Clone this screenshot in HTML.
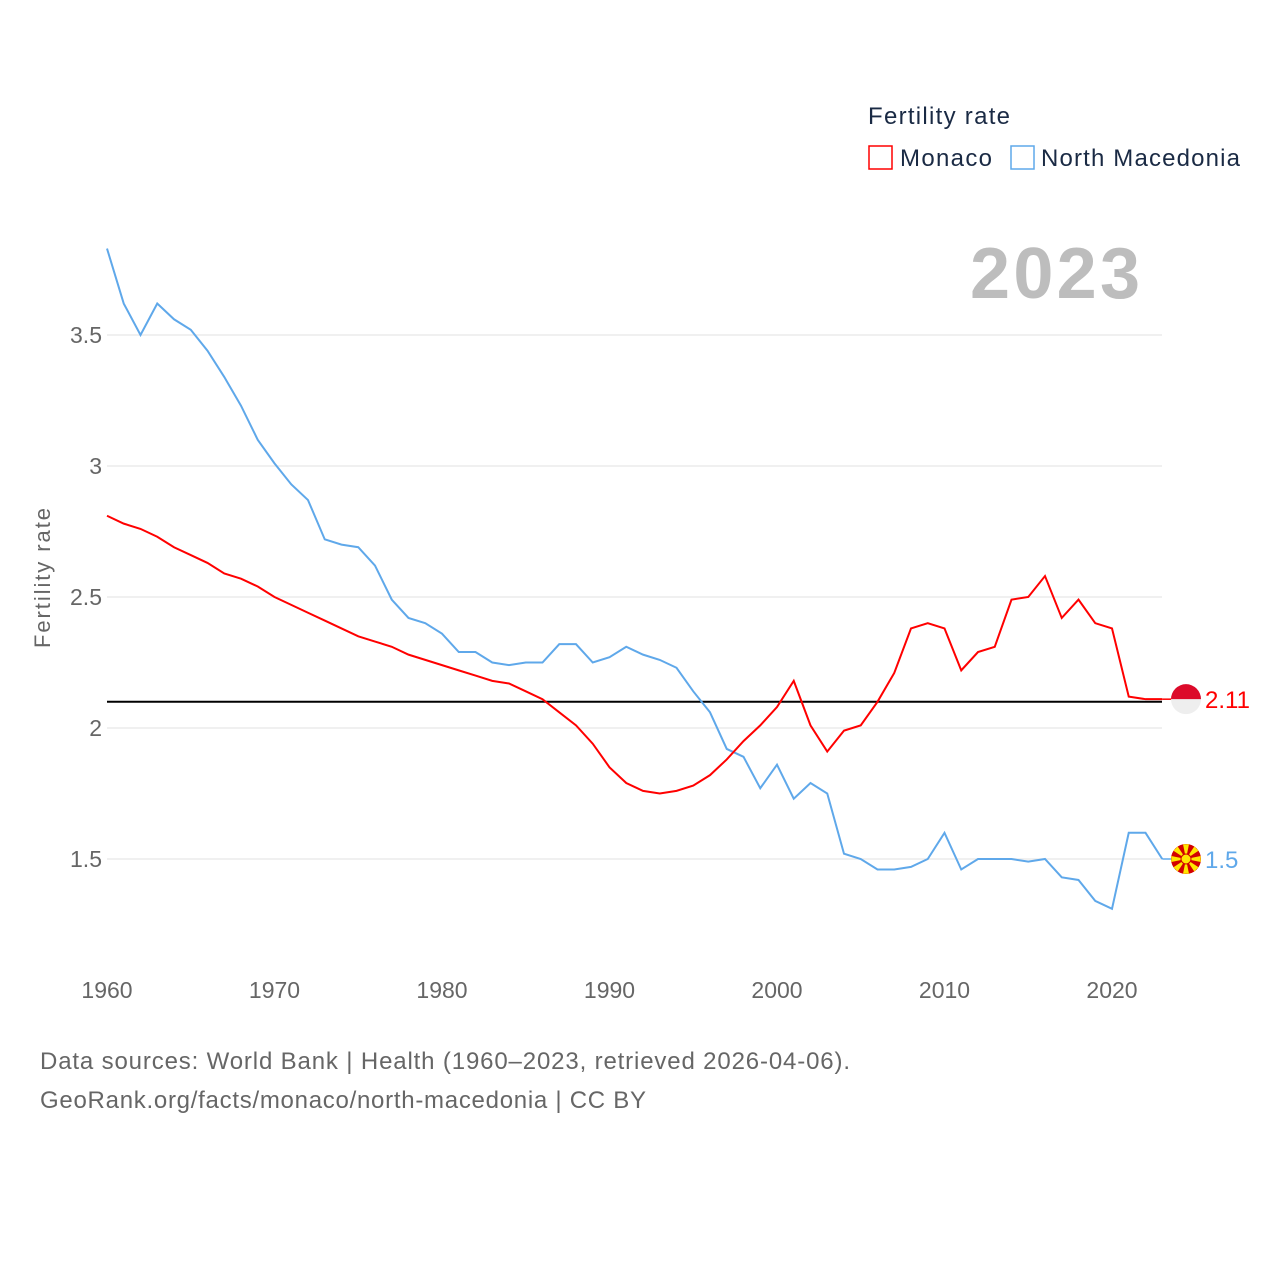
<!DOCTYPE html>
<html><head><meta charset="utf-8"><style>
body{margin:0;background:#fff;font-family:"Liberation Sans",sans-serif}
svg text{font-family:"Liberation Sans",sans-serif}
</style></head><body>
<svg id="chart" width="1280" height="1280" xmlns="http://www.w3.org/2000/svg">
<text x="868" y="124" font-size="24" fill="#1a2a44" textLength="142">Fertility rate</text>
<g><rect x="869" y="146" width="23" height="23" fill="none" stroke="#f00" stroke-width="1.5"/><text x="900" y="166" font-size="24" fill="#1a2a44" textLength="92">Monaco</text></g>
<g><rect x="1011" y="146" width="23" height="23" fill="none" stroke="#5fa8ea" stroke-width="1.5"/><text x="1041" y="166" font-size="24" fill="#1a2a44" textLength="199">North Macedonia</text></g>
<text x="1140" y="298" font-size="72" font-weight="bold" fill="#bdbdbd" text-anchor="end" textLength="170">2023</text>
<text transform="translate(50,578) rotate(-90)" font-size="22" fill="#666" text-anchor="middle" textLength="140">Fertility rate</text>
<g id="grid"></g><g id="yt"></g><g id="xt"></g><g id="lines"></g>
<text x="40" y="1069" font-size="24" fill="#666" textLength="810">Data sources: World Bank | Health (1960–2023, retrieved 2026-04-06).</text>
<text x="40" y="1108" font-size="24" fill="#666" textLength="606">GeoRank.org/facts/monaco/north-macedonia | CC BY</text>
</svg>
<script>
const years=[];for(let y=1960;y<=2023;y++)years.push(y);
const monaco=[2.81,2.78,2.76,2.73,2.69,2.66,2.63,2.59,2.57,2.54,2.50,2.47,2.44,2.41,2.38,2.35,2.33,2.31,2.28,2.26,2.24,2.22,2.20,2.18,2.17,2.14,2.11,2.06,2.01,1.94,1.85,1.79,1.76,1.75,1.76,1.78,1.82,1.88,1.95,2.01,2.08,2.18,2.01,1.91,1.99,2.01,2.10,2.21,2.38,2.40,2.38,2.22,2.29,2.31,2.49,2.50,2.58,2.42,2.49,2.40,2.38,2.12,2.11,2.11];
const macedonia=[3.83,3.62,3.50,3.62,3.56,3.52,3.44,3.34,3.23,3.10,3.01,2.93,2.87,2.72,2.70,2.69,2.62,2.49,2.42,2.40,2.36,2.29,2.29,2.25,2.24,2.25,2.25,2.32,2.32,2.25,2.27,2.31,2.28,2.26,2.23,2.14,2.06,1.92,1.89,1.77,1.86,1.73,1.79,1.75,1.52,1.50,1.46,1.46,1.47,1.50,1.60,1.46,1.50,1.50,1.50,1.49,1.50,1.43,1.42,1.34,1.31,1.60,1.60,1.50];
const yTicks=[1.5,2,2.5,3,3.5];
const xTicks=[1960,1970,1980,1990,2000,2010,2020];
const refValue=2.1;
const X=v=>107+(v-1960)*16.75, Y=v=>728-(v-2)*262;
const NS="http://www.w3.org/2000/svg";
function mk(t,a,p){const e=document.createElementNS(NS,t);for(const k in a)e.setAttribute(k,a[k]);p.appendChild(e);return e;}
const grid=document.getElementById('grid'),yt=document.getElementById('yt'),xt=document.getElementById('xt'),L=document.getElementById('lines');
yTicks.forEach(v=>{
 const g=mk('line',{x1:107,x2:1162,y1:Y(v),y2:Y(v),stroke:'#ebebeb','stroke-width':1.5},grid);
 
 
 const t=mk('text',{x:102,y:Y(v)+8,'font-size':23,fill:'#666','text-anchor':'end'},yt);t.textContent=v;
 
 
});
xTicks.forEach(v=>{
 const t=mk('text',{x:X(v),y:998,'font-size':23,fill:'#666','text-anchor':'middle'},xt);t.textContent=v;
 
 
});
const ref=mk('line',{x1:107,x2:1162,y1:Y(refValue),y2:Y(refValue),stroke:'#000','stroke-width':2},L);


function line(d,c,name){
 const p=mk('polyline',{points:d.map((v,i)=>X(years[i])+','+Y(v)).join(' '),fill:'none',stroke:c,'stroke-width':2},L);
 
 
}
line(macedonia,'#5fa8ea','line-north-macedonia');
line(monaco,'#f00','line-monaco');
const lm=monaco[monaco.length-1],lk=macedonia[macedonia.length-1];
const ex=X(2023);
mk('line',{x1:ex,x2:1172,y1:Y(lm),y2:Y(lm),stroke:'#f00','stroke-width':1.5},L);
mk('line',{x1:ex,x2:1172,y1:Y(lk),y2:Y(lk),stroke:'#5fa8ea','stroke-width':1.5},L);
const fm=mk('g',{},L);


mk('circle',{cx:1186,cy:Y(lm),r:15,fill:'#eee'},fm);
mk('path',{d:`M1171 ${Y(lm)} A15 15 0 0 1 1201 ${Y(lm)} Z`,fill:'#dc0a2a'},fm);
const fk=mk('g',{},L);


const cy=Y(lk);
mk('circle',{cx:1186,cy:cy,r:15,fill:'#d20000'},fk);
for(let i=0;i<8;i++){const a=i*Math.PI/4;mk('polygon',{points:`1186,${cy} ${1186+15*Math.cos(a-0.2)},${cy+15*Math.sin(a-0.2)} ${1186+15*Math.cos(a+0.2)},${cy+15*Math.sin(a+0.2)}`,fill:'#ffe600'},fk);}
mk('circle',{cx:1186,cy:cy,r:5,fill:'#ffe600',stroke:'#d20000','stroke-width':1},fk);
const t1=mk('text',{x:1205,y:Y(lm)+9,'font-size':24,fill:'#f00'},L);t1.textContent=lm;


const t2=mk('text',{x:1205,y:cy+9,'font-size':24,fill:'#5fa8ea'},L);t2.textContent=lk;


</script>
</body></html>
